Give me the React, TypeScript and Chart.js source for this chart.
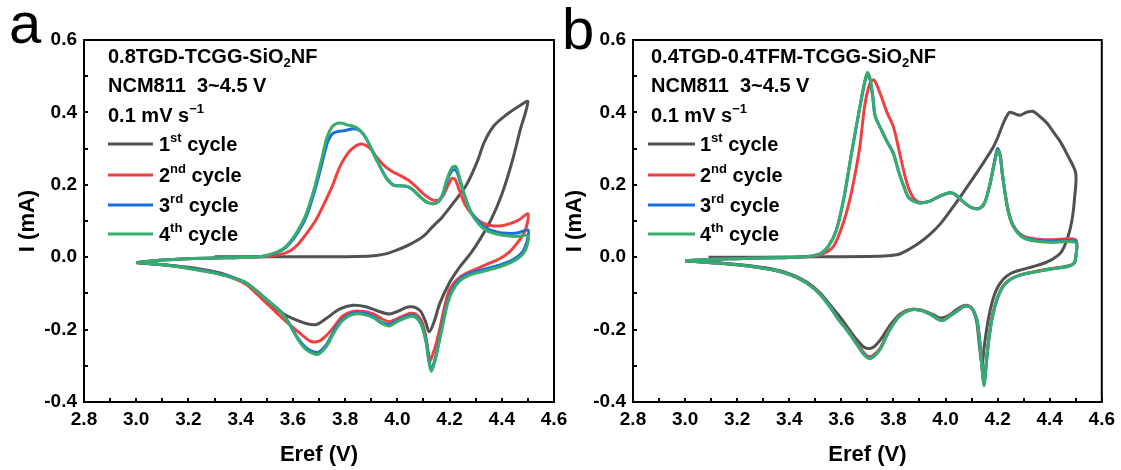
import { useEffect, useRef } from "react";
import { Chart, registerables } from "chart.js";
Chart.register(...registerables);

type Pt = [number, number];

const xTickValues = [2.8, 3.0, 3.2, 3.4, 3.6, 3.8, 4.0, 4.2, 4.4, 4.6];
const yTickValues = [-0.4, -0.2, 0.0, 0.2, 0.4, 0.6];
const cycleNumbers = ["1", "2", "3", "4"];
const cycleSuffixes = ["st", "nd", "rd", "th"];
const cycleColors = ["#515151", "#F14040", "#1A6FDF", "#37AD6B"];
const xTitle = "Eref (V)";
const yTitle = "I (mA)";
const cellLine = "NCM811  3~4.5 V";
const rateMain = "0.1 mV s";
const rateSup = "\u22121";
const aName = ["0.8TGD-TCGG-SiO", "2", "NF"];
const bName = ["0.4TGD-0.4TFM-TCGG-SiO", "2", "NF"];

// Panel a
const aCycle1: Pt[] = [
  [3.3, 0.001], [3.5, 0.001], [3.7, 0.001], [3.85, 0.002], [3.92, 0.005], [3.96, 0.01],
  [4.0, 0.02], [4.05, 0.036], [4.1, 0.058], [4.14, 0.088], [4.17, 0.109], [4.22, 0.155],
  [4.265, 0.2], [4.306, 0.264], [4.333, 0.318], [4.37, 0.363], [4.415, 0.392], [4.47, 0.419], [4.5, 0.43],
  [4.47, 0.35], [4.44, 0.265], [4.4, 0.173], [4.36, 0.105], [4.317, 0.05], [4.28, 0.01],
  [4.24, -0.026], [4.2, -0.07], [4.163, -0.127], [4.14, -0.18], [4.122, -0.206], [4.108, -0.178],
  [4.09, -0.15], [4.07, -0.139], [4.05, -0.137], [4.03, -0.14], [4.0, -0.15], [3.97, -0.157],
  [3.93, -0.15], [3.88, -0.137], [3.83, -0.133], [3.78, -0.143], [3.73, -0.168], [3.69, -0.186],
  [3.65, -0.183], [3.6, -0.17], [3.56, -0.155], [3.51, -0.128], [3.46, -0.095], [3.41, -0.068],
  [3.35, -0.05], [3.3, -0.04], [3.2, -0.028], [3.1, -0.02], [3.0, -0.015],
];
const aCycle2: Pt[] = [
  [3.0, -0.015], [3.1, -0.008], [3.2, -0.004], [3.3, -0.002], [3.4, -0.001], [3.5, 0.002],
  [3.55, 0.007], [3.59, 0.018], [3.62, 0.036], [3.66, 0.073], [3.69, 0.105], [3.72, 0.148],
  [3.75, 0.195], [3.78, 0.25], [3.81, 0.287], [3.84, 0.307], [3.86, 0.313], [3.88, 0.309],
  [3.9, 0.298], [3.92, 0.277], [3.95, 0.253], [3.98, 0.237], [4.01, 0.226], [4.04, 0.214],
  [4.07, 0.196], [4.1, 0.175], [4.13, 0.16], [4.155, 0.157], [4.175, 0.17], [4.195, 0.2],
  [4.21, 0.218], [4.222, 0.214], [4.24, 0.18], [4.26, 0.145], [4.29, 0.115], [4.32, 0.097],
  [4.36, 0.087], [4.4, 0.087], [4.44, 0.095], [4.47, 0.105], [4.5, 0.12],
  [4.495, 0.085], [4.48, 0.06], [4.46, 0.04], [4.43, 0.015], [4.39, -0.005], [4.355, -0.016],
  [4.3, -0.033], [4.24, -0.055], [4.2, -0.09], [4.18, -0.14], [4.165, -0.19], [4.15, -0.235],
  [4.135, -0.27], [4.125, -0.285], [4.115, -0.245], [4.105, -0.205], [4.09, -0.172],
  [4.07, -0.157], [4.05, -0.155], [4.03, -0.16], [4.0, -0.17], [3.97, -0.178], [3.94, -0.17],
  [3.91, -0.157], [3.87, -0.15], [3.83, -0.15], [3.79, -0.163], [3.76, -0.19], [3.73, -0.215],
  [3.7, -0.232], [3.67, -0.233], [3.64, -0.218], [3.61, -0.2], [3.57, -0.175], [3.54, -0.155],
  [3.5, -0.128], [3.46, -0.1], [3.42, -0.075], [3.37, -0.058], [3.3, -0.043], [3.2, -0.03],
  [3.1, -0.021], [3.0, -0.015],
];
const aCycle3: Pt[] = [
  [3.0, -0.015], [3.1, -0.008], [3.2, -0.004], [3.3, -0.002], [3.4, -0.001], [3.48, 0.002],
  [3.52, 0.008], [3.56, 0.02], [3.59, 0.04], [3.62, 0.07], [3.65, 0.11], [3.68, 0.175],
  [3.71, 0.255], [3.733, 0.318], [3.75, 0.34], [3.77, 0.347], [3.8, 0.35], [3.83, 0.355],
  [3.85, 0.352], [3.87, 0.34], [3.89, 0.315], [3.92, 0.27], [3.95, 0.228], [3.97, 0.208],
  [3.99, 0.198], [4.02, 0.197], [4.04, 0.195], [4.06, 0.186], [4.09, 0.165], [4.12, 0.15],
  [4.15, 0.15], [4.17, 0.165], [4.19, 0.21], [4.21, 0.24], [4.225, 0.24], [4.24, 0.21],
  [4.26, 0.165], [4.28, 0.128], [4.31, 0.1], [4.34, 0.08], [4.38, 0.07], [4.42, 0.066],
  [4.46, 0.067], [4.5, 0.075],
  [4.498, 0.048], [4.48, 0.015], [4.44, -0.008], [4.39, -0.022], [4.33, -0.034], [4.28, -0.044],
  [4.24, -0.06], [4.21, -0.09], [4.19, -0.13], [4.175, -0.18], [4.16, -0.23], [4.145, -0.28],
  [4.13, -0.31], [4.12, -0.28], [4.11, -0.23], [4.095, -0.19], [4.08, -0.17], [4.06, -0.16],
  [4.03, -0.165], [4.0, -0.175], [3.97, -0.186], [3.94, -0.18], [3.91, -0.165], [3.87, -0.155],
  [3.83, -0.155], [3.79, -0.172], [3.76, -0.2], [3.73, -0.24], [3.7, -0.262], [3.68, -0.262],
  [3.65, -0.25], [3.62, -0.225], [3.59, -0.188], [3.56, -0.155], [3.53, -0.135], [3.5, -0.117],
  [3.46, -0.092], [3.42, -0.07], [3.37, -0.056], [3.3, -0.043], [3.2, -0.03], [3.1, -0.021],
  [3.0, -0.015],
];
const aCycle4: Pt[] = [
  [3.0, -0.015], [3.1, -0.008], [3.2, -0.004], [3.3, -0.002], [3.4, -0.001], [3.48, 0.002],
  [3.52, 0.009], [3.56, 0.022], [3.59, 0.043], [3.62, 0.075], [3.65, 0.118], [3.68, 0.185],
  [3.71, 0.27], [3.73, 0.33], [3.75, 0.36], [3.77, 0.37], [3.79, 0.37], [3.81, 0.365],
  [3.83, 0.362], [3.85, 0.355], [3.87, 0.34], [3.89, 0.315], [3.92, 0.27], [3.95, 0.228],
  [3.97, 0.208], [3.99, 0.198], [4.02, 0.197], [4.04, 0.195], [4.06, 0.186], [4.09, 0.165],
  [4.12, 0.15], [4.15, 0.15], [4.17, 0.168], [4.19, 0.215], [4.21, 0.248], [4.225, 0.25],
  [4.24, 0.215], [4.26, 0.165], [4.28, 0.125], [4.31, 0.093], [4.34, 0.074], [4.38, 0.064],
  [4.42, 0.059], [4.46, 0.057], [4.5, 0.06],
  [4.498, 0.035], [4.48, 0.008], [4.44, -0.013], [4.39, -0.027], [4.33, -0.039], [4.28, -0.049],
  [4.24, -0.065], [4.21, -0.095], [4.19, -0.135], [4.175, -0.185], [4.16, -0.235], [4.145, -0.285],
  [4.13, -0.315], [4.12, -0.285], [4.11, -0.235], [4.095, -0.193], [4.08, -0.173], [4.06, -0.163],
  [4.03, -0.168], [4.0, -0.178], [3.97, -0.19], [3.94, -0.183], [3.91, -0.168], [3.87, -0.158],
  [3.83, -0.158], [3.79, -0.175], [3.76, -0.205], [3.73, -0.245], [3.7, -0.267], [3.68, -0.267],
  [3.65, -0.255], [3.62, -0.228], [3.59, -0.19], [3.56, -0.157], [3.53, -0.136], [3.5, -0.118],
  [3.46, -0.093], [3.42, -0.071], [3.37, -0.057], [3.3, -0.044], [3.2, -0.031], [3.1, -0.021],
  [3.0, -0.015],
];

// Panel b
const bCycle1: Pt[] = [
  [3.09, 0.0], [3.3, 0.0], [3.5, 0.001], [3.7, 0.002], [3.78, 0.004], [3.82, 0.008],
  [3.86, 0.022], [3.9, 0.04], [3.94, 0.063], [3.98, 0.092], [4.02, 0.13], [4.06, 0.17],
  [4.1, 0.212], [4.14, 0.255], [4.18, 0.3], [4.2, 0.33], [4.225, 0.375], [4.245, 0.4],
  [4.26, 0.398], [4.285, 0.392], [4.31, 0.4], [4.335, 0.403], [4.36, 0.39], [4.39, 0.37],
  [4.42, 0.34], [4.44, 0.32], [4.47, 0.28], [4.5, 0.232],
  [4.495, 0.16], [4.485, 0.1], [4.47, 0.056], [4.455, 0.028], [4.44, 0.01], [4.41, -0.006],
  [4.38, -0.016], [4.34, -0.025], [4.29, -0.035], [4.25, -0.045], [4.22, -0.062], [4.195, -0.09],
  [4.175, -0.135], [4.16, -0.19], [4.148, -0.25], [4.14, -0.298], [4.13, -0.245], [4.12, -0.18],
  [4.105, -0.145], [4.085, -0.133], [4.065, -0.135], [4.04, -0.146], [4.01, -0.162], [3.98, -0.168],
  [3.95, -0.158], [3.91, -0.147], [3.87, -0.144], [3.83, -0.155], [3.79, -0.185], [3.75, -0.228],
  [3.72, -0.25], [3.69, -0.25], [3.66, -0.228], [3.63, -0.2], [3.6, -0.17], [3.56, -0.135],
  [3.52, -0.1], [3.47, -0.07], [3.41, -0.048], [3.33, -0.032], [3.2, -0.02], [3.1, -0.014],
  [3.0, -0.01],
];
const bCycle2: Pt[] = [
  [3.0, -0.01], [3.1, -0.006], [3.2, -0.004], [3.3, -0.002], [3.4, -0.001], [3.48, 0.002],
  [3.53, 0.01], [3.57, 0.03], [3.61, 0.1], [3.64, 0.183], [3.67, 0.3], [3.69, 0.42],
  [3.71, 0.48], [3.725, 0.49], [3.75, 0.45], [3.775, 0.4], [3.8, 0.36], [3.82, 0.3],
  [3.84, 0.237], [3.86, 0.187], [3.885, 0.157], [3.91, 0.151], [3.94, 0.155], [3.97, 0.166],
  [4.0, 0.175], [4.02, 0.178], [4.04, 0.172], [4.07, 0.152], [4.1, 0.137], [4.13, 0.135],
  [4.15, 0.15], [4.17, 0.2], [4.19, 0.27], [4.2, 0.297], [4.21, 0.28], [4.22, 0.22],
  [4.24, 0.13], [4.26, 0.088], [4.29, 0.062], [4.33, 0.052], [4.4, 0.048], [4.5, 0.048],
  [4.5, 0.0], [4.495, -0.015], [4.48, -0.022], [4.45, -0.027], [4.4, -0.032], [4.34, -0.04],
  [4.29, -0.048], [4.25, -0.06], [4.22, -0.08], [4.2, -0.11], [4.18, -0.16], [4.165, -0.23],
  [4.155, -0.3], [4.148, -0.345], [4.14, -0.3], [4.13, -0.22], [4.12, -0.17], [4.105, -0.145],
  [4.09, -0.135], [4.07, -0.135], [4.05, -0.145], [4.02, -0.16], [3.99, -0.173], [3.97, -0.17],
  [3.94, -0.156], [3.9, -0.145], [3.86, -0.146], [3.82, -0.163], [3.78, -0.205], [3.75, -0.25],
  [3.72, -0.272], [3.7, -0.273], [3.68, -0.258], [3.65, -0.228], [3.62, -0.198], [3.59, -0.172],
  [3.56, -0.14], [3.52, -0.103], [3.47, -0.072], [3.41, -0.05], [3.33, -0.034], [3.2, -0.021],
  [3.1, -0.015], [3.0, -0.01],
];
const bCycle3: Pt[] = [
  [3.0, -0.01], [3.1, -0.006], [3.2, -0.004], [3.3, -0.002], [3.4, -0.001], [3.48, 0.003],
  [3.52, 0.01], [3.55, 0.03], [3.58, 0.073], [3.61, 0.164], [3.64, 0.29], [3.67, 0.41],
  [3.69, 0.483], [3.7, 0.505], [3.71, 0.49], [3.72, 0.446], [3.73, 0.39], [3.755, 0.35],
  [3.775, 0.32], [3.8, 0.287], [3.82, 0.237], [3.84, 0.196], [3.86, 0.164], [3.9, 0.15],
  [3.94, 0.155], [3.97, 0.166], [4.0, 0.175], [4.02, 0.178], [4.04, 0.172], [4.07, 0.152],
  [4.1, 0.137], [4.13, 0.135], [4.15, 0.15], [4.17, 0.2], [4.19, 0.27], [4.2, 0.3],
  [4.21, 0.28], [4.22, 0.22], [4.24, 0.13], [4.26, 0.086], [4.29, 0.06], [4.33, 0.048],
  [4.4, 0.044], [4.5, 0.043],
  [4.5, 0.0], [4.495, -0.015], [4.48, -0.023], [4.45, -0.028], [4.4, -0.033], [4.34, -0.041],
  [4.29, -0.049], [4.25, -0.061], [4.22, -0.082], [4.2, -0.112], [4.18, -0.165], [4.165, -0.235],
  [4.155, -0.305], [4.148, -0.352], [4.14, -0.305], [4.13, -0.225], [4.12, -0.172], [4.105, -0.146],
  [4.09, -0.136], [4.07, -0.136], [4.05, -0.146], [4.02, -0.161], [3.99, -0.175], [3.97, -0.171],
  [3.94, -0.157], [3.9, -0.146], [3.86, -0.147], [3.82, -0.165], [3.78, -0.208], [3.75, -0.253],
  [3.72, -0.276], [3.7, -0.277], [3.68, -0.262], [3.65, -0.23], [3.62, -0.2], [3.59, -0.173],
  [3.56, -0.141], [3.52, -0.104], [3.47, -0.073], [3.41, -0.05], [3.33, -0.034], [3.2, -0.021],
  [3.1, -0.015], [3.0, -0.01],
];
const bCycle4: Pt[] = [
  [3.0, -0.01], [3.1, -0.006], [3.2, -0.004], [3.3, -0.002], [3.4, -0.001], [3.48, 0.003],
  [3.52, 0.01], [3.55, 0.03], [3.58, 0.073], [3.61, 0.165], [3.64, 0.292], [3.67, 0.412],
  [3.69, 0.487], [3.7, 0.51], [3.71, 0.495], [3.72, 0.448], [3.73, 0.39], [3.755, 0.35],
  [3.775, 0.32], [3.8, 0.285], [3.82, 0.235], [3.84, 0.195], [3.86, 0.163], [3.9, 0.15],
  [3.94, 0.155], [3.97, 0.166], [4.0, 0.175], [4.02, 0.178], [4.04, 0.172], [4.07, 0.152],
  [4.1, 0.137], [4.13, 0.135], [4.15, 0.15], [4.17, 0.2], [4.19, 0.268], [4.2, 0.295],
  [4.21, 0.278], [4.22, 0.22], [4.24, 0.13], [4.26, 0.085], [4.29, 0.058], [4.33, 0.046],
  [4.4, 0.041], [4.5, 0.04],
  [4.5, 0.0], [4.495, -0.015], [4.48, -0.023], [4.45, -0.028], [4.4, -0.033], [4.34, -0.041],
  [4.29, -0.049], [4.25, -0.061], [4.22, -0.082], [4.2, -0.112], [4.18, -0.165], [4.165, -0.235],
  [4.155, -0.305], [4.148, -0.355], [4.14, -0.305], [4.13, -0.225], [4.12, -0.172], [4.105, -0.146],
  [4.09, -0.136], [4.07, -0.136], [4.05, -0.146], [4.02, -0.161], [3.99, -0.175], [3.97, -0.171],
  [3.94, -0.157], [3.9, -0.146], [3.86, -0.147], [3.82, -0.165], [3.78, -0.208], [3.75, -0.253],
  [3.72, -0.277], [3.7, -0.278], [3.68, -0.263], [3.65, -0.231], [3.62, -0.2], [3.59, -0.173],
  [3.56, -0.141], [3.52, -0.104], [3.47, -0.073], [3.41, -0.05], [3.33, -0.034], [3.2, -0.021],
  [3.1, -0.015], [3.0, -0.01],
];

const FONT = '"Liberation Sans", Arial, Helvetica, sans-serif';

type Run = { t: string; s?: number; dy?: number };

function drawRuns(ctx: CanvasRenderingContext2D, x: number, y: number, runs: Run[]) {
  let cx = x;
  for (const r of runs) {
    ctx.font = `bold ${r.s ?? 20}px ${FONT}`;
    ctx.fillText(r.t, cx, y + (r.dy ?? 0));
    cx += ctx.measureText(r.t).width;
  }
}

interface PanelSpec {
  left: number;
  width: number;
  yAxisWidth: number;
  padRight: number;
  yTitlePad: number;
  letter: string;
  letterX: number;
  letterY: number;
  textOffset: number;
  lineOffset0: number;
  lineOffset1: number;
  labelOffset: number;
  name: string[];
  curves: Pt[][];
}

const panels: PanelSpec[] = [
  {
    left: 0, width: 580, yAxisWidth: 84, padRight: 26, yTitlePad: 16, letter: "a", letterX: 9, letterY: 43,
    textOffset: 24, lineOffset0: 24, lineOffset1: 69, labelOffset: 75, name: aName,
    curves: [aCycle1, aCycle2, aCycle3, aCycle4],
  },
  {
    left: 560, width: 561, yAxisWidth: 73, padRight: 17, yTitlePad: 3, letter: "b", letterX: 2, letterY: 49,
    textOffset: 18, lineOffset0: 15, lineOffset1: 62, labelOffset: 67, name: bName,
    curves: [bCycle1, bCycle2, bCycle3, bCycle4],
  },
];

const textBaselines = [63, 92, 122];
const legendRows = [144, 175, 205, 234];

function midpoints(v: number[]) {
  const out: number[] = [];
  for (let i = 0; i < v.length - 1; i++) out.push((v[i] + v[i + 1]) / 2);
  return out;
}

function makePlugin(spec: PanelSpec) {
  return {
    id: "frameAndText",
    afterDatasetsDraw(chart: any) {
      const { ctx, chartArea: a, scales } = chart;
      const xs = scales.x, ys = scales.y;
      ctx.save();
      ctx.strokeStyle = "#000";
      ctx.lineWidth = 2;
      ctx.strokeRect(a.left, a.top, a.right - a.left, a.bottom - a.top);
      ctx.beginPath();
      const xAll = [...xTickValues, ...midpoints(xTickValues)];
      for (const v of xAll) {
        const px = Math.round(xs.getPixelForValue(v));
        ctx.moveTo(px, a.bottom);
        ctx.lineTo(px, a.bottom - 4);
      }
      const yAll = [...yTickValues, ...midpoints(yTickValues)];
      for (const v of yAll) {
        const py = Math.round(ys.getPixelForValue(v));
        ctx.moveTo(a.left, py);
        ctx.lineTo(a.left + 4, py);
      }
      ctx.stroke();

      ctx.fillStyle = "#000";
      ctx.textBaseline = "alphabetic";
      ctx.textAlign = "left";
      const tx = a.left + spec.textOffset;
      drawRuns(ctx, tx, textBaselines[0], [
        { t: spec.name[0] },
        { t: spec.name[1], s: 13, dy: 4 },
        { t: spec.name[2] },
      ]);
      drawRuns(ctx, tx, textBaselines[1], [{ t: cellLine }]);
      drawRuns(ctx, tx, textBaselines[2], [{ t: rateMain }, { t: rateSup, s: 13, dy: -9 }]);

      for (let i = 0; i < 4; i++) {
        const ry = legendRows[i];
        ctx.strokeStyle = cycleColors[i];
        ctx.lineWidth = 3;
        ctx.beginPath();
        ctx.moveTo(a.left + spec.lineOffset0, ry);
        ctx.lineTo(a.left + spec.lineOffset1, ry);
        ctx.stroke();
        drawRuns(ctx, a.left + spec.labelOffset, ry + 7, [
          { t: cycleNumbers[i] },
          { t: cycleSuffixes[i], s: 13, dy: -9 },
          { t: " cycle" },
        ]);
      }

      ctx.font = `58px ${FONT}`;
      ctx.fillText(spec.letter, spec.letterX, spec.letterY);
      ctx.restore();
    },
  };
}

function Panel({ spec }: { spec: PanelSpec }) {
  const ref = useRef<HTMLCanvasElement>(null);
  useEffect(() => {
    const tickFont = { family: FONT, size: 19, weight: "bold" as const };
    const titleFont = { family: FONT, size: 22, weight: "bold" as const };
    const chart = new Chart(ref.current!, {
      type: "scatter",
      data: {
        datasets: spec.curves.map((c, i) => ({
          data: c.map(([x, y]) => ({ x, y })),
          showLine: true,
          borderColor: cycleColors[i],
          backgroundColor: cycleColors[i],
          borderWidth: 3,
          pointRadius: 0,
          pointHoverRadius: 0,
          tension: 0.3,
          fill: false,
          order: spec.curves.length - 1 - i,
        })),
      },
      options: {
        animation: false,
        responsive: false,
        devicePixelRatio: 1,
        layout: { padding: { left: 0, top: 40, right: spec.padRight, bottom: 0 } },
        plugins: { legend: { display: false }, tooltip: { enabled: false } },
        scales: {
          x: {
            type: "linear",
            min: 2.8,
            max: 4.6,
            afterFit: (s: any) => { s.height = 68; },
            afterBuildTicks: (s: any) => { s.ticks = xTickValues.map((v) => ({ value: v })); },
            grid: { display: false, drawTicks: false },
            border: { display: false },
            ticks: {
              font: tickFont, color: "#000", padding: 6, maxRotation: 0, autoSkip: false,
              callback: (v: any) => Number(v).toFixed(1),
            },
            title: { display: true, text: xTitle, font: titleFont, color: "#000", padding: { top: 0, bottom: 2 } },
          },
          y: {
            type: "linear",
            min: -0.4,
            max: 0.6,
            afterFit: (s: any) => { s.width = spec.yAxisWidth; },
            afterBuildTicks: (s: any) => { s.ticks = yTickValues.map((v) => ({ value: v })); },
            grid: { display: false, drawTicks: false },
            border: { display: false },
            ticks: {
              font: tickFont, color: "#000", padding: 7, autoSkip: false,
              callback: (v: any) => Number(v).toFixed(1),
            },
            title: { display: true, text: yTitle, font: titleFont, color: "#000", padding: { top: spec.yTitlePad - 1, bottom: 0 } },
          },
        },
      },
      plugins: [makePlugin(spec)],
    } as any);
    return () => chart.destroy();
  }, [spec]);
  return (
    <canvas
      ref={ref}
      width={spec.width}
      height={470}
      style={{ position: "absolute", left: spec.left, top: 0, width: spec.width, height: 470 }}
    />
  );
}

export default function App() {
  return (
    <div style={{ position: "absolute", left: 0, top: 0, width: 1121, height: 470, background: "#fff" }}>
      {panels.map((p) => (
        <Panel key={p.letter} spec={p} />
      ))}
    </div>
  );
}
